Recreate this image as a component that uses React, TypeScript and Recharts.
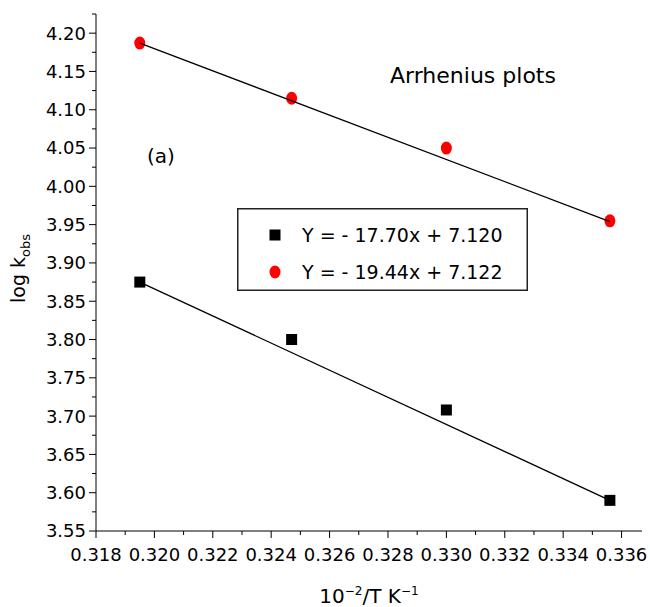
import { ComposedChart, Scatter, XAxis, YAxis, Customized } from 'recharts'

const FONT = 'DejaVu Sans'

// 10^-2/T values (K^-1)
const invTemp = [0.3195, 0.3247, 0.33, 0.3356]
const logKSquares = [3.875, 3.8, 3.708, 3.59]
const logKCircles = [4.187, 4.115, 4.05, 3.955]

// fitted line end points
const fitX = [0.3195, 0.3356]
const fitSquares = [3.875, 3.59]
const fitCircles = [4.187, 3.954]

const legendLabels = ['Y = - 17.70x + 7.120', 'Y = - 19.44x + 7.122']

const xMajor = [0.318, 0.32, 0.322, 0.324, 0.326, 0.328, 0.33, 0.332, 0.334, 0.336]
const xAllTicks = [
  0.318, 0.319, 0.32, 0.321, 0.322, 0.323, 0.324, 0.325, 0.326, 0.327,
  0.328, 0.329, 0.33, 0.331, 0.332, 0.333, 0.334, 0.335, 0.336,
]
const yMajor = [3.55, 3.6, 3.65, 3.7, 3.75, 3.8, 3.85, 3.9, 3.95, 4.0, 4.05, 4.1, 4.15, 4.2]
const yAllTicks = [
  3.55, 3.575, 3.6, 3.625, 3.65, 3.675, 3.7, 3.725, 3.75, 3.775, 3.8, 3.825, 3.85, 3.875,
  3.9, 3.925, 3.95, 3.975, 4.0, 4.025, 4.05, 4.075, 4.1, 4.125, 4.15, 4.175, 4.2, 4.225,
]

const X_DOMAIN: [number, number] = [0.318, 0.3367]
const Y_DOMAIN: [number, number] = [3.55, 4.225]

const squares = invTemp.map((x, i) => ({ x, y: logKSquares[i] }))
const circles = invTemp.map((x, i) => ({ x, y: logKCircles[i] }))
const squareFit = fitX.map((x, i) => ({ x, y: fitSquares[i] }))
const circleFit = fitX.map((x, i) => ({ x, y: fitCircles[i] }))

const isIn = (list: number[], v: number) => list.some(m => Math.abs(m - v) < 1e-6)

function SquareDot(p: any) {
  if (p.cx == null || p.cy == null) return null
  return <rect x={p.cx - 5.5} y={p.cy - 5.5} width={11} height={11} fill="#000" />
}

function RedDot(p: any) {
  if (p.cx == null || p.cy == null) return null
  return <ellipse cx={p.cx} cy={p.cy} rx={5.5} ry={6.5} fill="#ff0000" />
}

function NoDot() {
  return <g />
}

// tick with major/minor length; label only on major ones
function XTick(p: any) {
  const v = p.payload?.value
  const major = isIn(xMajor, v)
  return (
    <g>
      <line x1={p.x} y1={p.y} x2={p.x} y2={p.y + (major ? 7 : 4)} stroke="#000" strokeWidth={1} />
      {major && (
        <text x={p.x} y={p.y + 17} dy="0.71em" textAnchor="middle" fontFamily={FONT} fontSize={18} fill="#000">
          {v.toFixed(3)}
        </text>
      )}
    </g>
  )
}

function YTick(p: any) {
  const v = p.payload?.value
  const major = isIn(yMajor, v)
  return (
    <g>
      <line x1={p.x - (major ? 7 : 4)} y1={p.y} x2={p.x} y2={p.y} stroke="#000" strokeWidth={1} />
      {major && (
        <text x={p.x - 10} y={p.y} dy="0.355em" textAnchor="end" fontFamily={FONT} fontSize={18} fill="#000">
          {v.toFixed(2)}
        </text>
      )}
    </g>
  )
}

function XTitle(props: any) {
  const vb = props.viewBox || { x: 96, y: 531, width: 546 }
  const cx = vb.x + vb.width / 2
  return (
    <text x={cx} y={vb.y + 72} textAnchor="middle" fontFamily={FONT} fontSize={20} fill="#000">
      10<tspan dy={-8} fontSize={12}>−2</tspan>
      <tspan dy={8}>/T K</tspan>
      <tspan dy={-8} fontSize={12}>−1</tspan>
    </text>
  )
}

function YTitle(props: any) {
  const vb = props.viewBox || { x: 0, y: 14, height: 517 }
  const cx = 25
  const cy = vb.y + vb.height / 2 - 4
  return (
    <text x={cx} y={cy} transform={`rotate(-90, ${cx}, ${cy})`} textAnchor="middle" fontFamily={FONT} fontSize={19} fill="#000">
      log k<tspan dy={5} fontSize={13}>obs</tspan>
    </text>
  )
}

// legend box and free text, drawn inside the chart svg
function Notes() {
  return (
    <g fontFamily={FONT} fill="#000">
      <text x={390} y={83} fontSize={22}>Arrhenius plots</text>
      <text x={147} y={163} fontSize={20}>(a)</text>
      <g transform="translate(237, 208)">
        <rect x={0.75} y={0.75} width={289.5} height={81.5} fill="#fff" stroke="#222" strokeWidth={1.5} />
        <rect x={32.5} y={21.5} width={11} height={11} fill="#000" />
        <text x={65} y={34} fontSize={19}>{legendLabels[0]}</text>
        <ellipse cx={38} cy={64} rx={5.5} ry={6.5} fill="#ff0000" />
        <text x={65} y={71} fontSize={19}>{legendLabels[1]}</text>
      </g>
    </g>
  )
}

export default function App() {
  return (
    <div style={{ position: 'absolute', left: 0, top: 0, width: 650, height: 607, background: '#fff' }}>
      <ComposedChart width={650} height={607} margin={{ top: 14, right: 8, bottom: 0, left: 0 }}>
        <XAxis
          type="number"
          dataKey="x"
          domain={X_DOMAIN}
          allowDataOverflow
          ticks={xAllTicks}
          interval={0}
          tickLine={false}
          tickSize={0}
          tickMargin={0}
          tick={<XTick />}
          stroke="#000"
          height={76}
          label={<XTitle />}
        />
        <YAxis
          type="number"
          domain={Y_DOMAIN}
          allowDataOverflow
          ticks={yAllTicks}
          interval={0}
          tickLine={false}
          tickSize={0}
          tickMargin={0}
          tick={<YTick />}
          stroke="#000"
          width={96}
          label={<YTitle />}
        />
        <Scatter name={legendLabels[0]} data={squares} dataKey="y" shape={<SquareDot />} isAnimationActive={false} />
        <Scatter name={legendLabels[1]} data={circles} dataKey="y" shape={<RedDot />} isAnimationActive={false} />
        <Scatter data={squareFit} dataKey="y" shape={<NoDot />} line={{ stroke: '#000', strokeWidth: 1.3 }} isAnimationActive={false} />
        <Scatter data={circleFit} dataKey="y" shape={<NoDot />} line={{ stroke: '#000', strokeWidth: 1.3 }} isAnimationActive={false} />
        <Customized component={<Notes />} />
      </ComposedChart>
    </div>
  )
}
